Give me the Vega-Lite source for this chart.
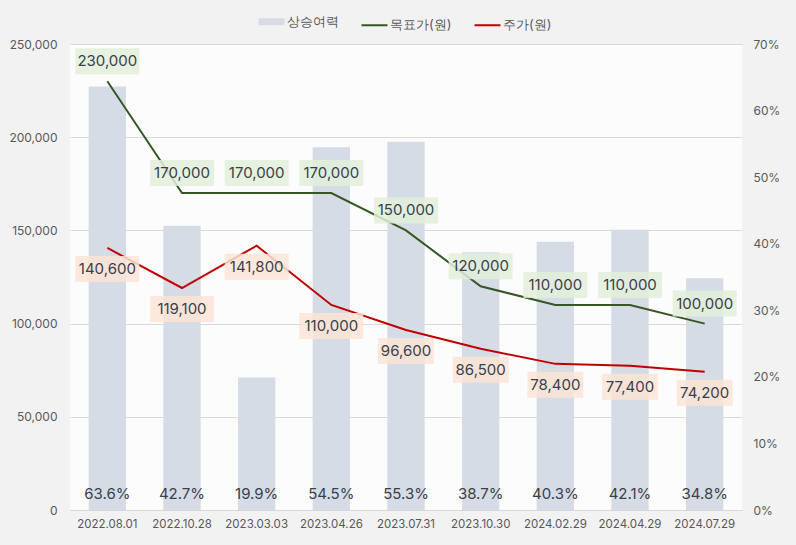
{
  "$schema": "https://vega.github.io/schema/vega-lite/v6.json",
  "width": 672,
  "height": 466,
  "autosize": "none",
  "padding": {"left": 70, "top": 44, "right": 54, "bottom": 35},
  "background": "#f2f2f2",
  "config": {
    "view": {"fill": "#fcfcfc", "stroke": null},
    "font": "Inter",
    "axis": {"labelColor": "#595959", "labelFontSize": 12, "ticks": false, "title": null}
  },
  "data": {
    "values": [
      {"date": "2022.08.01", "upside": 0.636, "target": 230000, "price": 140600},
      {"date": "2022.10.28", "upside": 0.427, "target": 170000, "price": 119100},
      {"date": "2023.03.03", "upside": 0.199, "target": 170000, "price": 141800},
      {"date": "2023.04.26", "upside": 0.545, "target": 170000, "price": 110000},
      {"date": "2023.07.31", "upside": 0.553, "target": 150000, "price": 96600},
      {"date": "2023.10.30", "upside": 0.387, "target": 120000, "price": 86500},
      {"date": "2024.02.29", "upside": 0.403, "target": 110000, "price": 78400},
      {"date": "2024.04.29", "upside": 0.421, "target": 110000, "price": 77400},
      {"date": "2024.07.29", "upside": 0.348, "target": 100000, "price": 74200}
    ]
  },
  "encoding": {
    "x": {
      "field": "date", "type": "ordinal", "sort": null,
      "scale": {"paddingInner": 0.5, "paddingOuter": 0.25},
      "axis": {"title": null, "labelAngle": 0, "ticks": false, "domainColor": "#d9d9d9", "labelFontSize": 11.5, "labelPadding": 8, "grid": false}
    }
  },
  "layer": [
    {
      "layer": [
        {
          "mark": {"type": "bar"},
          "encoding": {
            "y": {
              "field": "upside", "type": "quantitative",
              "scale": {"domain": [0, 0.7], "nice": false},
              "axis": {"orient": "right", "format": ".0%", "title": null, "grid": false, "domain": false, "values": [0, 0.1, 0.2, 0.3, 0.4, 0.5, 0.6, 0.7], "labelPadding": 11}
            },
            "color": {
              "datum": "상승여력",
              "scale": {"domain": ["상승여력", "목표가(원)", "주가(원)"], "range": ["#d6dce5", "#375623", "#c00000"]},
              "legend": {
                "title": null, "orient": "none", "direction": "horizontal",
                "legendX": 195, "legendY": -29,
                "symbolType": "stroke", "symbolSize": 676,
                "labelFontSize": 13, "labelColor": "#595959",
                "columnPadding": 18, "labelOffset": 9,
                "encode": {"symbols": {"update": {"strokeWidth": {"signal": "datum.value === '상승여력' ? 7 : 2"}, "stroke": {"scale": "color", "field": "value"}}}}
              }
            }
          }
        },
        {
          "mark": {"type": "text", "yOffset": -16, "fontSize": 15, "color": "#3a3f4b", "baseline": "middle"},
          "encoding": {
            "y": {"datum": 0, "type": "quantitative", "scale": {"domain": [0, 0.7], "nice": false}},
            "text": {"field": "upside", "format": ".1%"}
          }
        }
      ]
    },
    {
      "layer": [
        {
          "mark": {"type": "line", "strokeWidth": 2},
          "encoding": {
            "y": {
              "field": "target", "type": "quantitative",
              "scale": {"domain": [0, 250000], "nice": false},
              "axis": {"format": ",d", "values": [0, 50000, 100000, 150000, 200000, 250000], "grid": true, "gridColor": "#d9d9d9", "domain": false, "labelPadding": 13, "title": null}
            },
            "color": {"datum": "목표가(원)"}
          }
        },
        {
          "mark": {"type": "line", "strokeWidth": 2},
          "encoding": {
            "y": {"field": "price", "type": "quantitative", "scale": {"domain": [0, 250000], "nice": false}},
            "color": {"datum": "주가(원)"}
          }
        },
        {
          "mark": {"type": "bar", "color": "#e2efda", "opacity": 0.85, "yOffset": -33, "y2Offset": -7},
          "encoding": {
            "y": {"field": "target", "type": "quantitative", "scale": {"domain": [0, 250000], "nice": false}},
            "y2": {"field": "target"},
            "size": {"condition": {"test": "datum.target >= 100000", "value": 64}, "value": 56}
          }
        },
        {
          "mark": {"type": "bar", "color": "#fce4d6", "opacity": 0.85, "yOffset": 8, "y2Offset": 34},
          "encoding": {
            "y": {"field": "price", "type": "quantitative", "scale": {"domain": [0, 250000], "nice": false}},
            "y2": {"field": "price"},
            "size": {"condition": {"test": "datum.price >= 100000", "value": 64}, "value": 56}
          }
        },
        {
          "mark": {"type": "text", "yOffset": -20, "fontSize": 15, "color": "#3a3f4b", "baseline": "middle"},
          "encoding": {
            "y": {"field": "target", "type": "quantitative", "scale": {"domain": [0, 250000], "nice": false}},
            "text": {"field": "target", "format": ",d"}
          }
        },
        {
          "mark": {"type": "text", "yOffset": 21, "fontSize": 15, "color": "#3a3f4b", "baseline": "middle"},
          "encoding": {
            "y": {"field": "price", "type": "quantitative", "scale": {"domain": [0, 250000], "nice": false}},
            "text": {"field": "price", "format": ",d"}
          }
        }
      ]
    }
  ],
  "resolve": {"scale": {"y": "independent"}}
}
